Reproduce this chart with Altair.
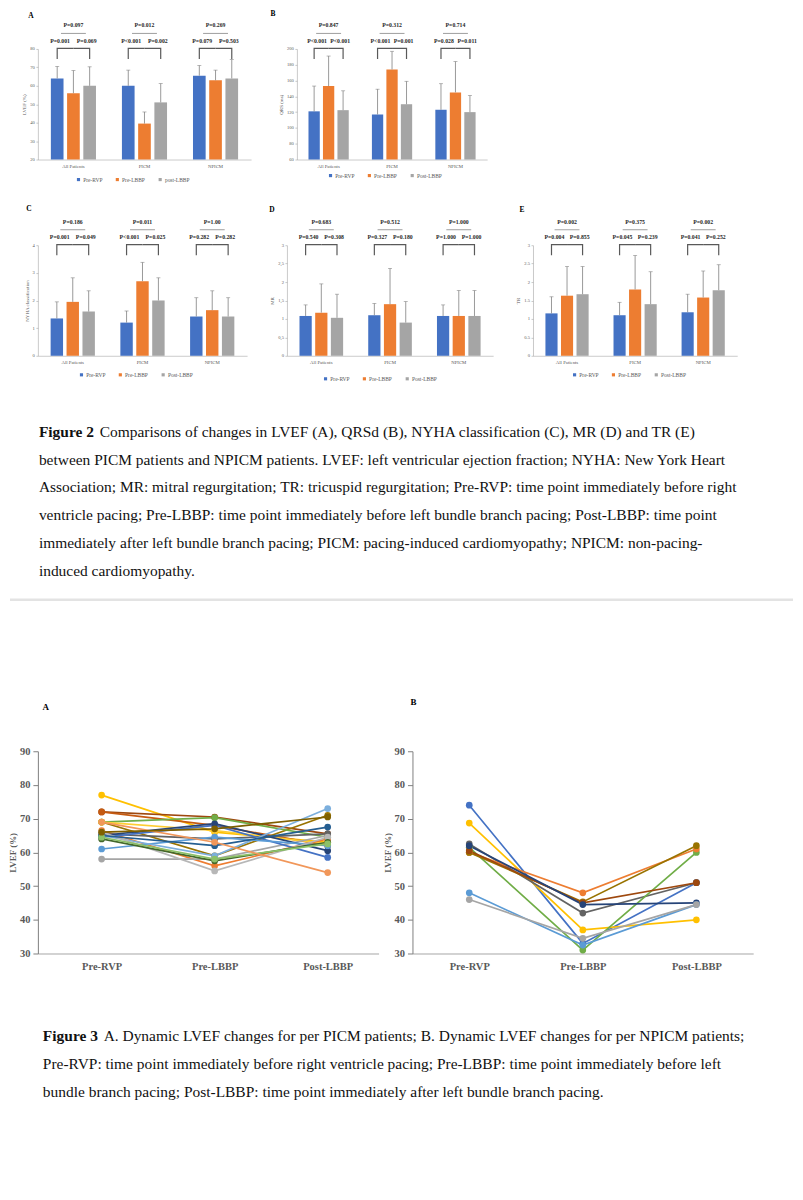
import altair as alt
import pandas as pd

SERIF = "Liberation Serif"
GREY_TXT = "#595959"

# ---------------- Figure 2 data ----------------
GROUPS = ["All Patients", "PICM", "NPICM"]
SERIES = ["Pre-RVP", "Pre-LBBP", "Post-LBBP"]
BAR_COLORS = ["#4472C4", "#ED7D31", "#A5A5A5"]

# A: LVEF (%)  (means / upper error-bar ends, order: group x series)
lvef_mean = [64.0, 56.0, 60.0, 60.0, 39.5, 51.0, 65.5, 63.0, 64.0]
lvef_upper = [70.5, 68.3, 70.3, 68.5, 45.8, 61.2, 71.0, 68.5, 74.3]
lvef_p_all = ["P=0.097", "P=0.012", "P=0.269"]
lvef_p_l = ["P=0.001", "P<0.001", "P=0.079"]
lvef_p_r = ["P=0.069", "P=0.002", "P=0.503"]

# B: QRSd (ms)
qrs_mean = [121.0, 153.0, 122.5, 117.0, 174.0, 130.0, 123.0, 145.0, 120.0]
qrs_upper = [153.0, 191.0, 147.0, 149.0, 197.0, 159.0, 156.0, 184.0, 141.0]
qrs_p_all = ["P=0.847", "P=0.312", "P=0.714"]
qrs_p_l = ["P<0.001", "P<0.001", "P=0.028"]
qrs_p_r = ["P<0.001", "P=0.001", "P=0.011"]

# C: NYHA classification
nyha_mean = [1.35, 1.95, 1.60, 1.20, 2.70, 2.00, 1.42, 1.65, 1.42]
nyha_upper = [1.95, 2.82, 2.35, 1.62, 3.38, 2.82, 2.10, 2.35, 2.10]
nyha_p_all = ["P=0.186", "P=0.011", "P=1.00"]
nyha_p_l = ["P=0.001", "P<0.001", "P=0.282"]
nyha_p_r = ["P=0.049", "P=0.025", "P=0.282"]

# D: MR
mr_mean = [1.08, 1.17, 1.03, 1.10, 1.40, 0.90, 1.08, 1.08, 1.08]
mr_upper = [1.38, 1.95, 1.67, 1.42, 2.37, 1.47, 1.38, 1.77, 1.77]
mr_p_all = ["P=0.683", "P=0.512", "P=1.000"]
mr_p_l = ["P=0.540", "P=0.327", "P=1.000"]
mr_p_r = ["P=0.308", "P=0.180", "P=1.000"]

# E: TR
tr_mean = [1.15, 1.63, 1.67, 1.10, 1.80, 1.40, 1.18, 1.58, 1.78]
tr_upper = [1.60, 2.42, 2.42, 1.45, 2.72, 2.28, 1.67, 2.30, 2.47]
tr_p_all = ["P=0.002", "P=0.375", "P=0.002"]
tr_p_l = ["P=0.004", "P=0.045", "P=0.041"]
tr_p_r = ["P=0.855", "P=0.239", "P=0.252"]

# ---------------- Figure 3 data ----------------
STAGES = ["Pre-RVP", "Pre-LBBP", "Post-LBBP"]

picm_pre_rvp = [77, 72, 72, 69, 69, 69, 66.5, 58, 65.5, 64.5, 65, 61, 65, 66, 64, 65, 64.5, 69, 66]
picm_pre_lbbp = [66, 70.5, 68, 59, 70.3, 66.5, 56, 58, 64, 68, 68.5, 64.5, 59, 54.5, 57.5, 62, 58, 63, 67]
picm_post_lbbp = [63, 65.5, 62, 71, 64.5, 62.5, 64, 65, 65.5, 58.5, 60.5, 62, 73, 64.5, 63, 67.5, 62.5, 54, 70.5]
picm_colors = ["#FFC000", "#9E480E", "#C55A11", "#997300", "#70AD47", "#FFCD33", "#ED7D31",
               "#A5A5A5", "#636363", "#4472C4", "#264478", "#5B9BD5", "#7CAFDD", "#B7B7B7",
               "#43682B", "#255E91", "#8CC168", "#F1975A", "#7F6000"]

npicm_pre_rvp = [74, 68.7, 62.5, 61.5, 60, 60, 60.5, 62, 48, 46]
npicm_pre_lbbp = [33, 37, 42, 31, 48, 45.3, 45, 44.5, 32.5, 34.5]
npicm_post_lbbp = [51, 40, 51, 60, 61, 62, 51, 45, 44.5, 44.5]
npicm_colors = ["#4472C4", "#FFC000", "#636363", "#70AD47", "#ED7D31", "#997300",
                "#9E480E", "#264478", "#5B9BD5", "#A5A5A5"]

# ---------------- captions ----------------
fig2_bold = "Figure 2"
fig2_lines = [
    "Comparisons of changes in LVEF (A), QRSd (B), NYHA classification (C), MR (D) and TR (E)",
    "between PICM patients and NPICM patients. LVEF: left ventricular ejection fraction; NYHA: New York Heart",
    "Association; MR: mitral regurgitation; TR: tricuspid regurgitation; Pre-RVP: time point immediately before right",
    "ventricle pacing; Pre-LBBP: time point immediately before left bundle branch pacing; Post-LBBP: time point",
    "immediately after left bundle branch pacing; PICM: pacing-induced cardiomyopathy; NPICM: non-pacing-",
    "induced cardiomyopathy.",
]
fig3_bold = "Figure 3"
fig3_lines = [
    "A. Dynamic LVEF changes for per PICM patients; B. Dynamic LVEF changes for per NPICM patients;",
    "Pre-RVP: time point immediately before right ventricle pacing; Pre-LBBP: time point immediately before left",
    "bundle branch pacing; Post-LBBP: time point immediately after left bundle branch pacing.",
]


def bar_panel(letter, means, uppers, p_all, p_l, p_r, ymin, ymax, ystep, ytitle, width,
              legend_x, legend_y, letter_dx, letter_dy, ylabel_expr=None, legend_expr=None):
    H = 111
    span = ymax - ymin

    def lv(f):
        return ymin + f * span

    n = int(round((ymax - ymin) / ystep))
    yvals = [round(ymin + i * ystep, 4) for i in range(n + 1)]

    bars = pd.DataFrame({
        "group": [g for g in GROUPS for _ in SERIES],
        "series": SERIES * len(GROUPS),
        "value": means,
        "upper": uppers,
    })
    x_axis = alt.Axis(title=None, labelAngle=0, ticks=False, domainColor="#bfbfbf", domainWidth=0.8,
                      labelFont=SERIF, labelFontSize=4.8, labelColor=GREY_TXT, labelPadding=4)
    ykw = dict(values=yvals, title=ytitle, grid=False, tickSize=2, tickColor="#a6a6a6", tickWidth=0.6,
               domainColor="#a6a6a6", domainWidth=0.6, labelFont=SERIF, labelFontSize=4.6,
               labelColor=GREY_TXT, labelPadding=1.5, titleFont=SERIF, titleFontSize=5,
               titleFontWeight="normal", titleColor=GREY_TXT, titlePadding=3)
    if ylabel_expr:
        ykw["labelExpr"] = ylabel_expr
    y_axis = alt.Axis(**ykw)
    yscale = alt.Scale(domain=[ymin, ymax], nice=False, zero=False)
    X = alt.X("group:N", sort=GROUPS, scale=alt.Scale(domain=GROUPS, paddingInner=0, paddingOuter=0),
              axis=x_axis)
    XO = alt.XOffset("series:N", sort=SERIES,
                     scale=alt.Scale(domain=SERIES, paddingInner=0.22, paddingOuter=0.8))

    def Y(field):
        return alt.Y(f"{field}:Q", scale=yscale, axis=y_axis)

    lkw = dict(orient="none", legendX=legend_x, legendY=legend_y, direction="horizontal", columns=3,
               title=None, symbolType="square", symbolSize=10, symbolStrokeWidth=0, labelFont=SERIF,
               labelFontSize=5.5, labelColor=GREY_TXT, columnPadding=12, labelOffset=2, padding=0,
               rowPadding=0)
    if legend_expr:
        lkw["labelExpr"] = legend_expr

    bar = alt.Chart(bars).mark_bar().encode(
        x=X, xOffset=XO, y=Y("value"), y2=alt.datum(ymin),
        color=alt.Color("series:N", sort=SERIES, scale=alt.Scale(domain=SERIES, range=BAR_COLORS),
                        legend=alt.Legend(**lkw)))
    err = alt.Chart(bars).mark_rule(color="#808080", strokeWidth=0.8).encode(
        x=X, xOffset=XO, y=Y("value"), y2="upper:Q")
    cap = alt.Chart(bars).mark_tick(color="#808080", size=4, thickness=0.8).encode(
        x=X, xOffset=XO, y=Y("upper"))

    tops = pd.DataFrame({"group": GROUPS, "label": p_all, "y": [lv(1.213)] * 3, "yl": [lv(1.14)] * 3})
    lefts = pd.DataFrame({"group": GROUPS, "series": ["Pre-RVP"] * 3, "label": p_l, "y": [lv(1.072)] * 3})
    rights = pd.DataFrame({"group": GROUPS, "series": ["Post-LBBP"] * 3, "label": p_r, "y": [lv(1.072)] * 3})
    lo, hi = lv(0.91), lv(1.005)
    brows = []
    for g in GROUPS:
        for side, pts in (("L", [("Pre-RVP", lo), ("Pre-RVP", hi), ("Pre-LBBP", hi)]),
                          ("R", [("Pre-LBBP", hi), ("Post-LBBP", hi), ("Post-LBBP", lo)])):
            for k, (s, yv) in enumerate(pts):
                brows.append({"group": g, "series": s, "y": yv, "key": g + side, "k": k})
    brk_df = pd.DataFrame(brows)

    ptxt = dict(font=SERIF, fontWeight="bold", fontSize=5.8, baseline="middle", color="#262626")
    top_t = alt.Chart(tops).mark_text(**ptxt).encode(x=X, y=Y("y"), text="label:N")
    top_l = alt.Chart(tops).mark_tick(size=25, thickness=1.1, color="#808080").encode(x=X, y=Y("yl"))
    l_t = alt.Chart(lefts).mark_text(align="left", dx=-7, **ptxt).encode(x=X, xOffset=XO, y=Y("y"),
                                                                           text="label:N")
    r_t = alt.Chart(rights).mark_text(align="right", dx=7, **ptxt).encode(x=X, xOffset=XO, y=Y("y"),
                                                                            text="label:N")
    brk = alt.Chart(brk_df).mark_line(color="#595959", strokeWidth=1.2, strokeJoin="miter").encode(
        x=X, xOffset=XO, y=Y("y"), detail="key:N", order="k:Q")
    let = alt.Chart(pd.DataFrame({"t": [letter]})).mark_text(
        font=SERIF, fontWeight="bold", fontSize=7.5, color="#000000", align="center", baseline="middle"
    ).encode(x=alt.value(letter_dx), y=alt.value(letter_dy), text="t:N")

    return alt.layer(bar, err, cap, top_t, top_l, l_t, r_t, brk, let).properties(width=width, height=H)


def line_panel(letter, pre_rvp, pre_lbbp, post_lbbp, colors, width, padding, align, letter_dx, letter_dy):
    ids = [f"{letter}{i + 1}" for i in range(len(pre_rvp))]
    df = pd.DataFrame({
        "pid": ids * 3,
        "stage": [s for s in STAGES for _ in ids],
        "lvef": list(pre_rvp) + list(pre_lbbp) + list(post_lbbp),
    })
    X = alt.X("stage:N", sort=STAGES,
              scale=alt.Scale(type="point", domain=STAGES, padding=padding, align=align),
              axis=alt.Axis(title=None, labelAngle=0, ticks=False, domainColor="#a6a6a6", domainWidth=1,
                            labelFont=SERIF, labelFontWeight="bold", labelFontSize=10.5,
                            labelColor=GREY_TXT, labelPadding=8))
    Y = alt.Y("lvef:Q", scale=alt.Scale(domain=[30, 90], nice=False, zero=False),
              axis=alt.Axis(values=list(range(30, 91, 10)), title="LVEF (%)", grid=False, tickSize=5,
                            tickColor="#7f7f7f", domainColor="#7f7f7f", labelFont=SERIF,
                            labelFontWeight="bold", labelFontSize=10.5, labelColor=GREY_TXT,
                            labelPadding=3, titleFont=SERIF, titleFontSize=9, titleFontWeight="bold",
                            titleColor=GREY_TXT, titlePadding=2))
    C = alt.Color("pid:N", sort=ids, scale=alt.Scale(domain=ids, range=colors), legend=None)
    lines = alt.Chart(df).mark_line(strokeWidth=1.7).encode(x=X, y=Y, color=C)
    pts = alt.Chart(df).mark_circle(size=45, opacity=1).encode(x=X, y=Y, color=C)
    let = alt.Chart(pd.DataFrame({"t": [letter]})).mark_text(
        font=SERIF, fontWeight="bold", fontSize=9, color="#000000", align="center", baseline="middle"
    ).encode(x=alt.value(letter_dx), y=alt.value(letter_dy), text="t:N")
    return alt.layer(lines, pts, let).properties(width=width, height=203)


def caption(bold, lines, x0, bold_w, band):
    n = len(lines)
    Yc = alt.Y("i:O", axis=None, scale=alt.Scale(domain=list(range(n)), paddingInner=0, paddingOuter=0))
    tkw = dict(font=SERIF, fontSize=15.5, color="#111111", align="left", baseline="middle")
    rest = pd.DataFrame({"i": list(range(1, n)), "t": lines[1:]})
    first = pd.DataFrame({"i": [0], "t": [lines[0]]})
    boldd = pd.DataFrame({"i": [0], "t": [bold]})
    l1 = alt.Chart(rest).mark_text(**tkw).encode(x=alt.value(x0), y=Yc, text="t:N")
    l2 = alt.Chart(first).mark_text(**tkw).encode(x=alt.value(x0 + bold_w), y=Yc, text="t:N")
    l3 = alt.Chart(boldd).mark_text(fontWeight="bold", **tkw).encode(x=alt.value(x0), y=Yc, text="t:N")
    return alt.layer(l1, l2, l3).properties(width=712, height=band * n)


def indep(ch):
    return ch.resolve_scale(color="independent", xOffset="independent").resolve_legend(color="independent")


pA = bar_panel("A", lvef_mean, lvef_upper, lvef_p_all, lvef_p_l, lvef_p_r, 20, 80, 10, "LVEF (%)", 214,
               38, 128, -7, -33, legend_expr="datum.label == 'Post-LBBP' ? 'post-LBBP' : datum.label")
pB = bar_panel("B", qrs_mean, qrs_upper, qrs_p_all, qrs_p_l, qrs_p_r, 60, 200, 20, "QRS (ms)", 191,
               31, 124, -24, -35)
pC = bar_panel("C", nyha_mean, nyha_upper, nyha_p_all, nyha_p_l, nyha_p_r, 0, 4, 1, "NYHA classification",
               210, 41, 127, -9, -36)
pD = bar_panel("D", mr_mean, mr_upper, mr_p_all, mr_p_l, mr_p_r, 0, 3, 0.5, "MR", 207, 36, 131, -15, -35,
               ylabel_expr="replace('' + datum.value, '.', ',')")
pE = bar_panel("E", tr_mean, tr_upper, tr_p_all, tr_p_l, tr_p_r, 0, 3, 0.5, "TR", 205, 39, 127, -11, -35,
               ylabel_expr="'' + datum.value")

lA = line_panel("A", picm_pre_rvp, picm_pre_lbbp, picm_post_lbbp, picm_colors, 342, 0.507, 0.556, 8, -44)
lB = line_panel("B", npicm_pre_rvp, npicm_pre_lbbp, npicm_post_lbbp, npicm_colors, 342, 0.5, 0.5, 1, -49)

cap2 = caption(fig2_bold, fig2_lines, 1, 61, 28.1)
cap3 = caption(fig3_bold, fig3_lines, 5, 61, 28.0)

sep = alt.Chart(pd.DataFrame({"k": [0]})).mark_rule(color="#e3e3e3", strokeWidth=2.5).encode(
    x=alt.value(-28), x2=alt.value(758), y=alt.value(1)).properties(width=712, height=2)

row1 = indep(alt.hconcat(pA, pB, spacing=19))
row2 = indep(alt.hconcat(pC, pD, pE, spacing=22))
row3 = indep(alt.hconcat(lA, lB, spacing=4))

v5 = indep(alt.vconcat(row3, cap3, spacing=50))
v4 = indep(alt.vconcat(sep, v5, spacing=97))
v3 = indep(alt.vconcat(cap2, v4, spacing=12))
v2 = indep(alt.vconcat(row2, v3, spacing=35))
chart = indep(alt.vconcat(row1, v2, spacing=22)).properties(
    padding=0, background="white"
).configure_view(stroke=None)

chart.save("out.html", embed_options={"renderer": "svg", "actions": False})
